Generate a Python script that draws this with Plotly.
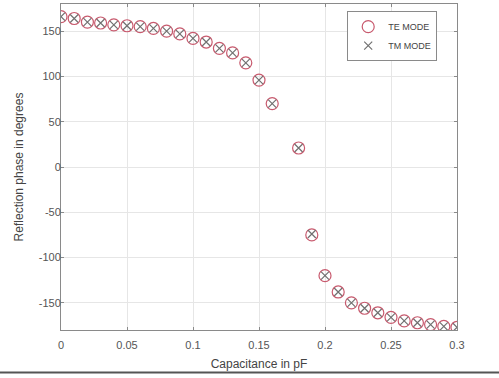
import plotly.graph_objects as go

capacitance = [0.0, 0.01, 0.02, 0.03, 0.04, 0.05, 0.06, 0.07, 0.08, 0.09, 0.10,
               0.11, 0.12, 0.13, 0.14, 0.15, 0.16, 0.18, 0.19, 0.20, 0.21, 0.22,
               0.23, 0.24, 0.25, 0.26, 0.27, 0.28, 0.29, 0.30]
te_phase = [166, 164, 160, 159, 157, 156, 155, 153, 150, 147, 142,
            138, 131, 126, 115, 96, 70, 21, -75, -120, -138, -150,
            -156, -161, -166, -170, -172, -174, -176, -177]
tm_phase = [166, 164, 160, 159, 157, 156, 155, 153, 150, 147, 142,
            138, 131, 126, 115, 96, 70, 21, -74, -120, -138, -150,
            -156, -161, -166, -170, -172, -174, -176, -177]

xticks = [0, 0.05, 0.1, 0.15, 0.2, 0.25, 0.3]
xticklabels = ["0", "0.05", "0.1", "0.15", "0.2", "0.25", "0.3"]
yticks = [-150, -100, -50, 0, 50, 100, 150]
yticklabels = ["-150", "-100", "-50", "0", "50", "100", "150"]

FONT = "Liberation Sans, Arial, sans-serif"

fig = go.Figure()
fig.add_trace(go.Scatter(
    x=capacitance, y=te_phase, mode="markers", name="TE MODE",
    marker=dict(symbol="circle-open", size=12, color="#c85a6e", line=dict(width=1.2)),
))
fig.add_trace(go.Scatter(
    x=capacitance, y=tm_phase, mode="markers", name="TM MODE",
    marker=dict(symbol="x-thin-open", size=8, color="#707070", line=dict(width=1.2, color="#707070")),
))

axis_common = dict(
    showline=True, linecolor="#8a8a8a", linewidth=1, mirror="ticks",
    ticks="inside", ticklen=3, tickcolor="#8a8a8a",
    showgrid=True, gridcolor="#e6e6e6", gridwidth=1, zeroline=False,
    automargin=False,
    tickfont=dict(family=FONT, size=11, color="#555555"),
)

fig.update_xaxes(
    range=[0, 0.3], tickvals=xticks, ticktext=xticklabels, ticklabelstandoff=5,
    title=dict(text="Capacitance in pF", standoff=9,
               font=dict(family=FONT, size=12, color="#444444")),
    **axis_common,
)
fig.update_yaxes(
    range=[-180, 180], tickvals=yticks, ticktext=yticklabels, ticklabelstandoff=-3,
    title=dict(text="Reflection phase in degrees", standoff=12,
               font=dict(family=FONT, size=12, color="#444444")),
    **axis_common,
)

fig.update_layout(
    width=499, height=378,
    margin=dict(l=61, r=42, t=4, b=48),
    paper_bgcolor="white", plot_bgcolor="white",
    showlegend=True,
    legend=dict(x=0.95, y=0.978, xanchor="right", yanchor="top",
                bgcolor="white", bordercolor="#8a8a8a", borderwidth=1,
                font=dict(family=FONT, size=9, color="#444444"),
                itemwidth=30, tracegroupgap=0),
    shapes=[dict(type="line", xref="paper", yref="paper", x0=-0.2, x1=1.2,
                 y0=-0.13, y1=-0.13, layer="above",
                 line=dict(color="#555555", width=2))],
)

fig.write_html("out.html", config={"displayModeBar": False},
               post_script="document.body.style.margin='0';")
